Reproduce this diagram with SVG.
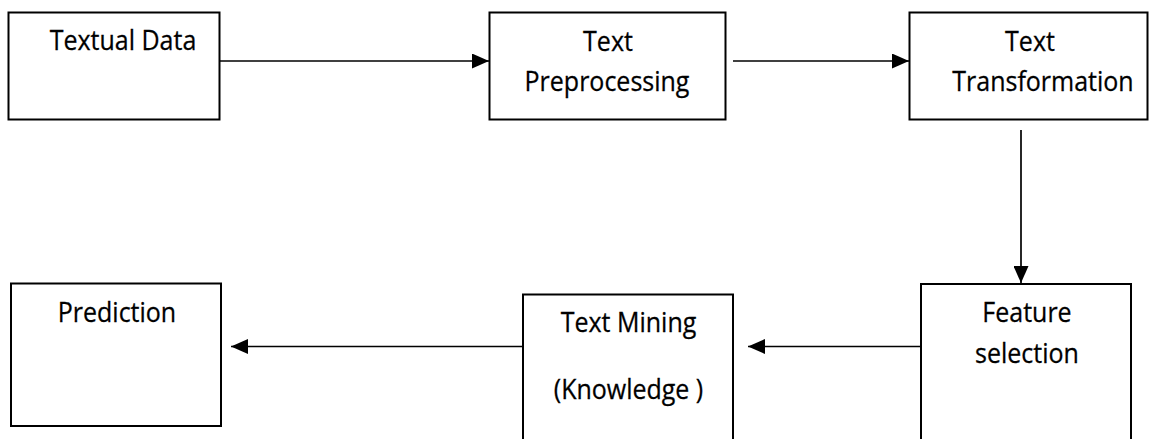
<svg xmlns="http://www.w3.org/2000/svg" width="1149" height="439" viewBox="0 0 1149 439">
  <style>
    .box { fill: #ffffff; stroke: #000000; stroke-width: 2; }
    .label { font-family: "Open Sans", "Noto Sans", sans-serif; font-size: 25px; fill: #000000; stroke: #000000; stroke-width: 0.25; text-anchor: middle;
             transform-box: fill-box; transform-origin: center bottom; transform: scaleY(1.07); }
    .link { stroke: #000000; stroke-width: 1.7; fill: none; }
  </style>
  <defs>
    <marker id="arrow" viewBox="0 0 17 15" refX="17" refY="7.5" markerWidth="17" markerHeight="15" markerUnits="userSpaceOnUse" orient="auto">
      <path d="M0,0 L17,7.5 L0,15 Z" fill="#000000"/>
    </marker>
  </defs>
  <rect width="1149" height="439" fill="#ffffff"/>

  <g id="textual-data">
    <rect class="box" x="8.5" y="12.5" width="211" height="107"/>
    <text class="label" x="123" y="51">Textual Data</text>
  </g>

  <g id="text-preprocessing">
    <rect class="box" x="489.5" y="12.5" width="236" height="107"/>
    <text class="label" x="608" y="52">Text</text>
    <text class="label" x="607" y="92">Preprocessing</text>
  </g>

  <g id="text-transformation">
    <rect class="box" x="909.5" y="12.5" width="238" height="107"/>
    <text class="label" x="1030" y="52">Text</text>
    <text class="label" x="1043" y="92">Transformation</text>
  </g>

  <g id="feature-selection">
    <rect class="box" x="921" y="284" width="210" height="170"/>
    <text class="label" x="1027" y="323">Feature</text>
    <text class="label" x="1027" y="364">selection</text>
  </g>

  <g id="text-mining">
    <rect class="box" x="523" y="294.5" width="210" height="160"/>
    <text class="label" x="628.5" y="333">Text Mining</text>
    <text class="label" x="628.5" y="400">(Knowledge )</text>
  </g>

  <g id="prediction">
    <rect class="box" x="11" y="283.5" width="210" height="142.5"/>
    <text class="label" x="117" y="323">Prediction</text>
  </g>

  <g id="connectors">
    <line class="link" x1="220" y1="61" x2="489" y2="61" marker-end="url(#arrow)"/>
    <line class="link" x1="733" y1="61" x2="909" y2="61" marker-end="url(#arrow)"/>
    <line class="link" x1="1021" y1="130" x2="1021" y2="283" marker-end="url(#arrow)"/>
    <line class="link" x1="921" y1="346.5" x2="748" y2="346.5" marker-end="url(#arrow)"/>
    <line class="link" x1="523" y1="346.5" x2="231" y2="346.5" marker-end="url(#arrow)"/>
  </g>
</svg>
